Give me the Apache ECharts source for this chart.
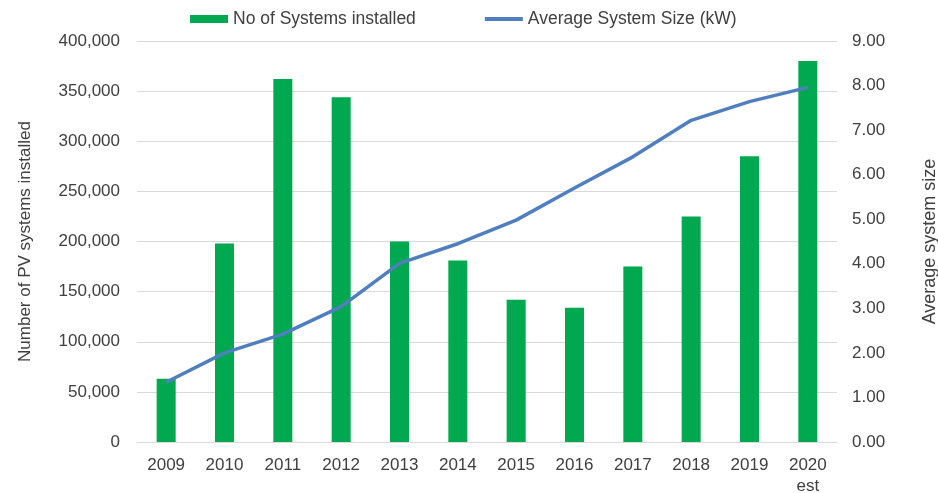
<!DOCTYPE html>
<html>
<head>
<meta charset="utf-8">
<script src="https://cdn.jsdelivr.net/npm/echarts@6/dist/echarts.min.js"></script>
<style>html,body{margin:0;padding:0;background:#fff}#c{width:938px;height:493px}</style>
</head>
<body>
<div id="c"></div>
<script>
const categories = ['2009','2010','2011','2012','2013','2014','2015','2016','2017','2018','2019','2020\nest'];
const systemsInstalled = [63000, 198000, 362000, 344000, 200000, 181000, 142000, 134000, 175000, 225000, 285000, 380000];
const avgSystemSize = [1.34, 2.0, 2.42, 3.04, 4.01, 4.45, 4.98, 5.7, 6.4, 7.22, 7.64, 7.96];
const leftTicks = {min: 0, max: 400000, interval: 50000};
const rightTicks = {min: 0, max: 9, interval: 1};

const textColor = '#404040';
const font = 'Arial, "Liberation Sans", sans-serif';
const chart = echarts.init(document.getElementById('c'), null, {renderer: 'canvas'});
chart.setOption({
  animation: false,
  backgroundColor: '#fff',
  textStyle: {fontFamily: font},
  legend: {
    left: 185, top: 5,
    itemGap: 69,
    itemWidth: 38, itemHeight: 8,
    textStyle: {color: textColor, fontSize: 17.5, fontFamily: font},
    data: [
      {name: 'No of Systems installed', icon: 'rect'},
      {name: 'Average System Size (kW)', icon: 'path://M0,0H38V4H0Z'}
    ]
  },
  grid: {left: 137, right: 101, top: 41, bottom: 51, containLabel: false, outerBoundsMode: 'none'},
  xAxis: {
    type: 'category',
    data: categories,
    axisLine: {lineStyle: {color: '#d9d9d9', width: 1}},
    axisTick: {show: false},
    axisLabel: {color: textColor, fontSize: 17, fontFamily: font, margin: 13, lineHeight: 21}
  },
  yAxis: [{
    type: 'value',
    min: leftTicks.min, max: leftTicks.max, interval: leftTicks.interval,
    name: 'Number of PV systems installed',
    nameLocation: 'middle', nameRotate: 90, nameGap: 103,
    nameTextStyle: {color: textColor, fontSize: 17, fontFamily: font},
    axisLine: {show: false}, axisTick: {show: false},
    splitLine: {lineStyle: {color: '#d9d9d9', width: 1}},
    axisLabel: {color: textColor, fontSize: 17, fontFamily: font, margin: 17,
      formatter: v => v.toLocaleString('en-US')}
  }, {
    type: 'value',
    min: rightTicks.min, max: rightTicks.max, interval: rightTicks.interval,
    name: 'Average system size',
    nameLocation: 'middle', nameRotate: 90, nameGap: 84,
    nameTextStyle: {color: textColor, fontSize: 18, fontFamily: font},
    axisLine: {show: false}, axisTick: {show: false},
    splitLine: {show: false},
    axisLabel: {color: textColor, fontSize: 17, fontFamily: font, margin: 15,
      formatter: v => v.toFixed(2)}
  }],
  series: [{
    name: 'No of Systems installed',
    type: 'bar',
    data: systemsInstalled,
    yAxisIndex: 0,
    barWidth: 19,
    itemStyle: {color: '#00a84f'}
  }, {
    name: 'Average System Size (kW)',
    type: 'line',
    data: avgSystemSize,
    yAxisIndex: 1,
    symbol: 'none',
    lineStyle: {color: '#4f7fbf', width: 3.5},
    itemStyle: {color: '#4f7fbf'}
  }]
});
</script>
</body>
</html>
